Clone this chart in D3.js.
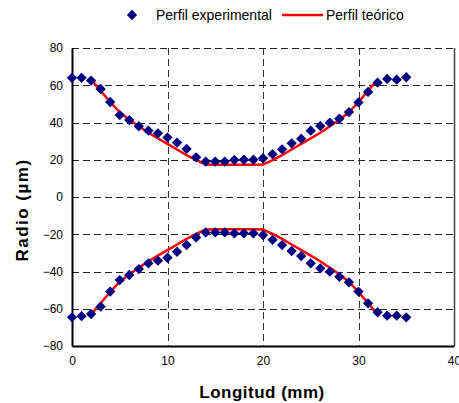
<!DOCTYPE html>
<html>
<head>
<meta charset="utf-8">
<script src="https://cdn.jsdelivr.net/npm/d3@7"></script>
<style>
  body { margin: 0; background: #fff; }
  text { font-family: "Liberation Sans", Arial, sans-serif; }
</style>
</head>
<body>
<svg></svg>
<script>
const width = 459;
const height = 403;

// longitud (mm) de cada punto medido
const longitud = d3.range(0, 36);
// perfil experimental, rama superior y rama inferior (µm)
const expSup = [64, 64, 62.5, 58, 51, 44, 41.3, 38, 35.6, 34.2, 32, 29.2, 25.8, 21.3, 19, 19, 19, 19.9, 20, 20,
                20.8, 23, 25.6, 28.8, 31.3, 35.6, 38.1, 39.9, 42, 45.6, 50.8, 56.4, 61.4, 63.4, 63, 64.3];
const expInf = [-64.6, -64, -62.8, -58.9, -50.8, -44.6, -41.9, -38.7, -35.6, -34.2, -32.6, -29.4, -25.8, -21.7, -19, -19, -19, -19.5, -19.5, -19.5,
                -20.4, -23, -25.8, -29, -31.7, -35.6, -38.3, -40.1, -42.8, -45.8, -50.8, -57.1, -61.9, -63.7, -63.7, -64.6];
// perfil teórico
const teoX = d3.range(2, 33);
const teoSup = [63, 57, 51, 45.5, 41.5, 38, 34.5, 31.5, 28.5, 25.5, 22.5, 19.8, 17.5, 17.3, 17.3, 17.3, 17.3, 17.3,
                17.5, 19.8, 22.5, 25.5, 28.5, 31.5, 34.5, 38, 41.5, 45.5, 51, 57, 63];
const teoInf = teoSup.map(d => -d);

const xTicks = [0, 10, 20, 30, 40];
const yTicks = [-80, -60, -40, -20, 0, 20, 40, 60, 80];

let svg = d3.select("svg")
    .attr("width", width)
    .attr("height", height);

let scaleX = d3.scaleLinear().domain([0, 40]).range([72, 454]);
let scaleY = d3.scaleLinear().domain([-80, 80]).range([346, 48]);

// rejilla discontinua
svg.append("g")
    .selectAll("line")
    .data(yTicks.filter(d => d > -80))
    .enter()
    .append("line")
    .attr("x1", scaleX(0))
    .attr("x2", scaleX(40))
    .attr("y1", d => Math.round(scaleY(d)) + 0.5)
    .attr("y2", d => Math.round(scaleY(d)) + 0.5)
    .attr("stroke", "#222")
    .attr("stroke-dasharray", "7,4");

svg.append("g")
    .selectAll("line")
    .data([10, 20, 30])
    .enter()
    .append("line")
    .attr("x1", d => Math.round(scaleX(d)) + 0.5)
    .attr("x2", d => Math.round(scaleX(d)) + 0.5)
    .attr("y1", scaleY(80))
    .attr("y2", scaleY(-80))
    .attr("stroke", "#333")
    .attr("stroke-dasharray", "7,4");

// borde derecho
svg.append("line")
    .attr("x1", scaleX(40) + 0.5)
    .attr("x2", scaleX(40) + 0.5)
    .attr("y1", scaleY(80))
    .attr("y2", scaleY(-80))
    .attr("stroke", "#444")
    .attr("stroke-width", 1.5);

// ejes
let axisX = d3.axisBottom(scaleX).tickValues(xTicks).tickSize(0).tickPadding(10);
let axisY = d3.axisLeft(scaleY).tickValues(yTicks).tickSize(0).tickPadding(9);

let gx = svg.append("g")
    .attr("transform", `translate(0, ${scaleY(-80)})`)
    .call(axisX);
let gy = svg.append("g")
    .attr("transform", `translate(${scaleX(0)}, 0)`)
    .call(axisY);

[gx, gy].forEach(g => {
    g.select(".domain").attr("stroke", "#000").attr("stroke-width", 2);
    g.selectAll("text").attr("font-size", 12).attr("fill", "#000")
        .style("font-family", "'Liberation Sans', Arial, sans-serif");
});

// perfil teórico
let line = d3.line()
    .x((d, i) => scaleX(teoX[i]))
    .y(d => scaleY(d));

[teoSup, teoInf].forEach(serie => {
    svg.append("path")
        .datum(serie)
        .attr("d", line)
        .attr("fill", "none")
        .attr("stroke", "#ff0000")
        .attr("stroke-width", 2.5);
});

// perfil experimental
const diamond = d3.symbol().type(d3.symbolDiamond2).size(68);

[expSup, expInf].forEach(serie => {
    svg.append("g")
        .selectAll("path")
        .data(serie)
        .enter()
        .append("path")
        .attr("d", diamond)
        .attr("transform", (d, i) => `translate(${scaleX(longitud[i])}, ${scaleY(d)})`)
        .attr("fill", "#000080");
});

// títulos de ejes
svg.append("text")
    .attr("x", 262)
    .attr("y", 398)
    .attr("text-anchor", "middle")
    .attr("font-size", 17)
    .attr("font-weight", "bold")
    .attr("letter-spacing", 0.5)
    .text("Longitud (mm)");

svg.append("text")
    .attr("transform", "translate(28, 210) rotate(-90)")
    .attr("text-anchor", "middle")
    .attr("font-size", 17)
    .attr("font-weight", "bold")
    .attr("letter-spacing", 1.5)
    .text("Radio (µm)");

// leyenda
let legend = svg.append("g");
legend.append("path")
    .attr("d", diamond)
    .attr("transform", "translate(132, 15)")
    .attr("fill", "#000080");
legend.append("text")
    .attr("x", 156)
    .attr("y", 20)
    .attr("font-size", 14)
    .text("Perfil experimental");
legend.append("line")
    .attr("x1", 282)
    .attr("x2", 323)
    .attr("y1", 15)
    .attr("y2", 15)
    .attr("stroke", "#ff0000")
    .attr("stroke-width", 2.5);
legend.append("text")
    .attr("x", 326)
    .attr("y", 20)
    .attr("font-size", 14)
    .text("Perfil teórico");
</script>
</body>
</html>
